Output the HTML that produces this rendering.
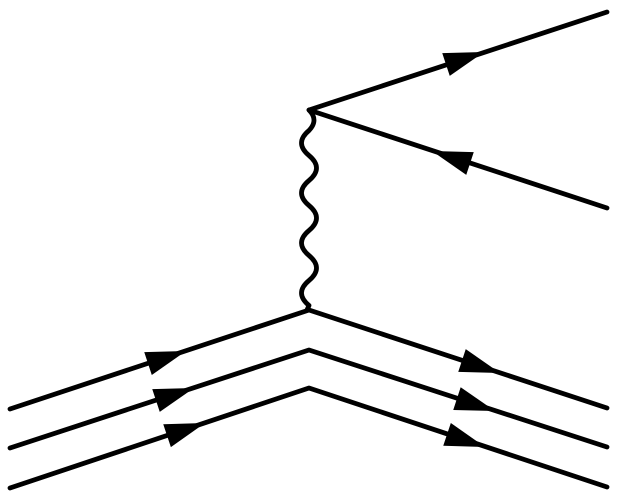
<!DOCTYPE html>
<html><head><style>html,body{margin:0;padding:0;background:#fff}svg{display:block}</style></head>
<body>
<svg width="619" height="500" viewBox="0 0 619 500" xmlns="http://www.w3.org/2000/svg">
<g fill="none" stroke="#000" stroke-width="4.8" stroke-linecap="round" stroke-linejoin="round">
<polyline points="607,12 309,110 607,208"/>
<path d="M309,110 Q319,120 309,130.5 Q294,143 309,155.5 Q324,168 309,180.5 Q294,193 309,205.5 Q324,218 309,230.5 Q294,243 309,255.5 Q324,268 309,280.5 Q294,293 309,305.5 L307,310"/>
<polyline points="10,409 309,310 607,408"/>
<polyline points="10,448 309,350 607,447"/>
<polyline points="10,488 309,388 607,487"/>
</g>
<g fill="#000">
<polygon points="0,0 -40,-12 -40,12" transform="translate(484,52) rotate(-18.2)"/>
<polygon points="0,0 -40,-12 -40,12" transform="translate(432,151) rotate(198.2)"/>
<polygon points="0,0 -40,-12 -40,12" transform="translate(186,351) rotate(-18.3)"/>
<polygon points="0,0 -40,-12 -40,12" transform="translate(194,388) rotate(-18.2)"/>
<polygon points="0,0 -40,-12 -40,12" transform="translate(205,423) rotate(-18.5)"/>
<polygon points="0,0 -40,-12 -40,12" transform="translate(500,373) rotate(18.2)"/>
<polygon points="0,0 -40,-12 -40,12" transform="translate(495,411) rotate(18)"/>
<polygon points="0,0 -40,-12 -40,12" transform="translate(485,447) rotate(18.4)"/>
</g>
</svg>
</body></html>
